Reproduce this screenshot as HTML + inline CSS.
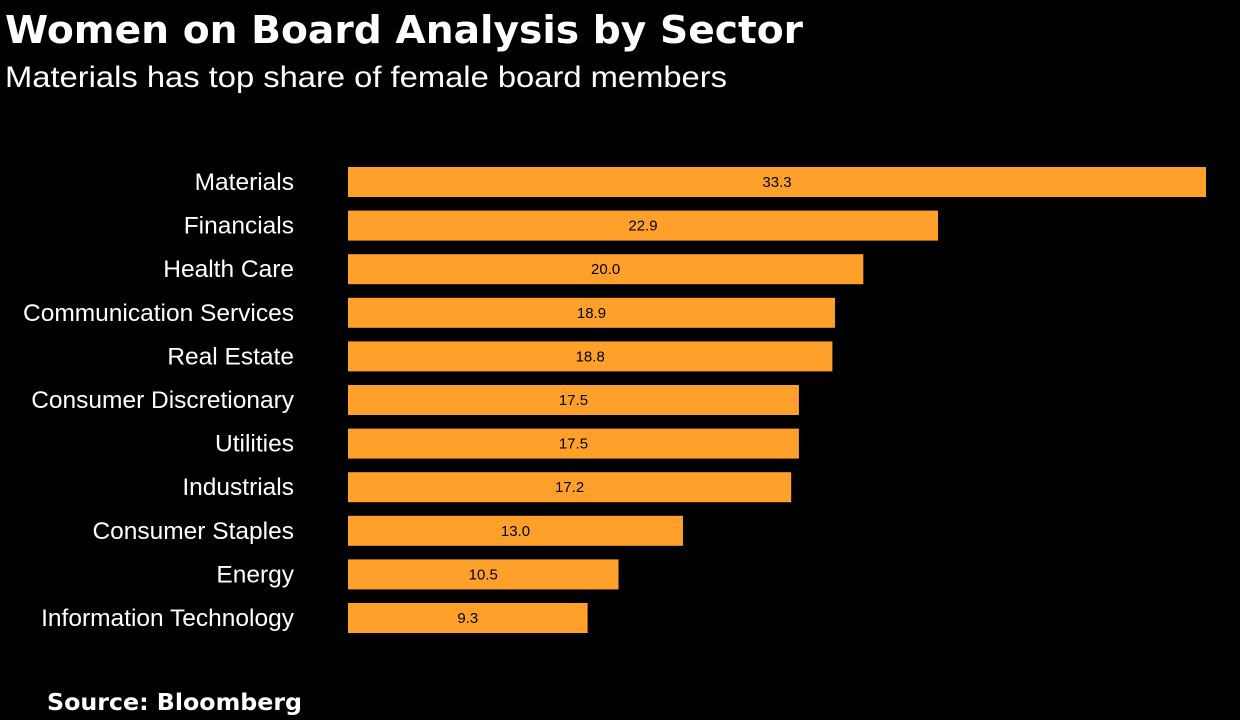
<!DOCTYPE html>
<html><head><meta charset="utf-8"><style>
html,body{margin:0;padding:0;background:#000;}
svg{display:block;}
</style></head><body>
<svg id="chart" width="1240" height="720" viewBox="0 0 1240 720">
<rect width="1240" height="720" fill="#000"/>
<text x="5" y="43" fill="#fff" font-family="'DejaVu Sans',sans-serif" font-weight="bold" font-size="38" textLength="798" lengthAdjust="spacingAndGlyphs">Women on Board Analysis by Sector</text>
<text x="5" y="87" fill="#fff" font-family="'Liberation Sans',sans-serif" font-size="30" textLength="722" lengthAdjust="spacingAndGlyphs">Materials has top share of female board members</text>
<g id="bars"></g>
<text x="47" y="710" fill="#fff" font-family="'DejaVu Sans',sans-serif" font-weight="bold" font-size="23" textLength="255" lengthAdjust="spacingAndGlyphs">Source: Bloomberg</text>
</svg>
<script>
const categories = ["Materials","Financials","Health Care","Communication Services","Real Estate","Consumer Discretionary","Utilities","Industrials","Consumer Staples","Energy","Information Technology"];
const values = [33.3,22.9,20.0,18.9,18.8,17.5,17.5,17.2,13.0,10.5,9.3];
const valueLabels = ["33.3","22.9","20.0","18.9","18.8","17.5","17.5","17.2","13.0","10.5","9.3"];

const x0 = 348, xMax = 33.3, xPix = 858;
const xScale = v => x0 + v / xMax * xPix;
const yTop = 167, step = 43.6, barH = 30;
const yScale = i => yTop + i * step;
const NS = "http://www.w3.org/2000/svg";
const g = document.getElementById("bars");
categories.forEach((c, i) => {
  const y = yScale(i);
  const w = xScale(values[i]) - x0;
  const r = document.createElementNS(NS, "rect");
  r.setAttribute("x", x0); r.setAttribute("y", y);
  r.setAttribute("width", w); r.setAttribute("height", barH);
  r.setAttribute("fill", "#ffa02a");
  
  
  g.appendChild(r);
  const lab = document.createElementNS(NS, "text");
  lab.setAttribute("x", 294); lab.setAttribute("y", y + barH / 2 + 8);
  lab.setAttribute("text-anchor", "end"); lab.setAttribute("fill", "#fff");
  lab.setAttribute("font-family", "'Liberation Sans',sans-serif"); lab.setAttribute("font-size", "24.5");
  lab.textContent = c;
  
  
  g.appendChild(lab);
  const vl = document.createElementNS(NS, "text");
  vl.setAttribute("x", x0 + w / 2); vl.setAttribute("y", y + barH / 2 + 5);
  vl.setAttribute("text-anchor", "middle"); vl.setAttribute("fill", "#000");
  vl.setAttribute("font-family", "'Liberation Sans',sans-serif"); vl.setAttribute("font-size", "15");
  vl.textContent = valueLabels[i];
  
  
  g.appendChild(vl);
});
</script>
</body></html>
